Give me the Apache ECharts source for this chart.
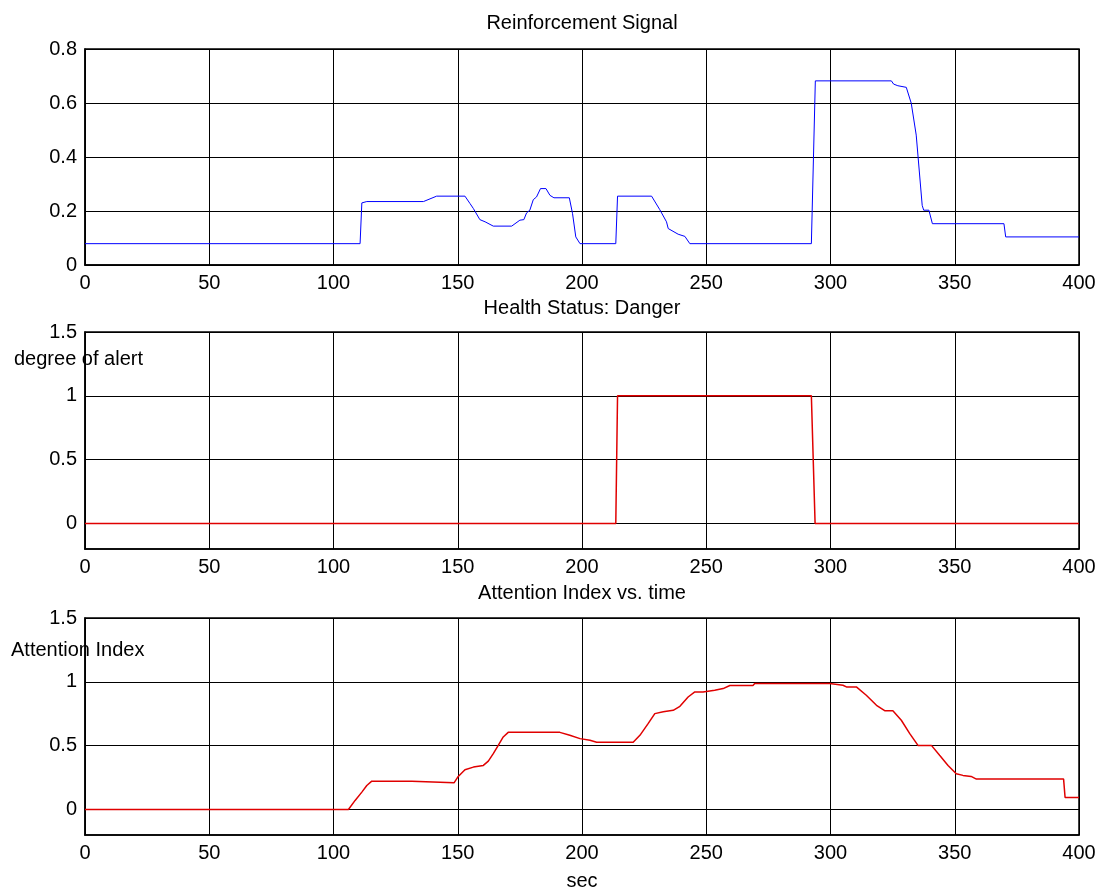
<!DOCTYPE html>
<html>
<head>
<meta charset="utf-8">
<title>Reinforcement Signal</title>
<script src="https://cdn.jsdelivr.net/npm/echarts@6/dist/echarts.min.js"></script>
<style>
  html, body { margin: 0; padding: 0; background: #fff; }
  #main { width: 1099px; height: 890px; }
</style>
</head>
<body>
<div id="main"></div>
<script>
// x ticks shared by all three panels
var timeTicks = [0, 50, 100, 150, 200, 250, 300, 350, 400];

// Reinforcement Signal (blue)
var reinfT = [0, 110.7, 111.4, 113.4, 136.2, 141.5, 152.9, 154.9, 156.3, 158.9, 161, 164.3, 171.7, 175, 176.6,
  177.7, 179, 180.4, 181.7, 183.3, 185.5, 187.1, 188.7, 194.9, 196.2, 197.5, 199.2, 213.6, 214.3, 228, 231.3,
  234, 234.7, 238.7, 241.4, 243.4, 292.3, 293.9, 324.5, 325.4, 327.1, 330.5, 332.5, 334.5, 336.9, 337.5, 339.6,
  341, 369.8, 370.5, 400];
var reinfV = [0.079, 0.079, 0.23, 0.235, 0.235, 0.255, 0.255, 0.228, 0.209, 0.168, 0.16, 0.144, 0.144, 0.166, 0.168,
  0.193, 0.203, 0.242, 0.252, 0.283, 0.283, 0.258, 0.249, 0.249, 0.19, 0.104, 0.079, 0.079, 0.255, 0.255, 0.205,
  0.16, 0.135, 0.114, 0.106, 0.079, 0.079, 0.682, 0.682, 0.670, 0.664, 0.658, 0.599, 0.481, 0.221, 0.203, 0.203,
  0.153, 0.153, 0.104, 0.104];

// Health Status: Danger (red)
var alertT = [0, 213.6, 214.3, 292.3, 293.8, 400];
var alertV = [0, 0, 1, 1, 0, 0];

// Attention Index (red)
var attT = [0, 106, 108.7, 111.4, 113.4, 115.4, 131.5, 132.1, 148.5, 150.2, 152.9, 156.3, 160.3, 162.3, 164.3,
  166.3, 168.3, 170.3, 191.1, 195.1, 199.2, 203.2, 205.9, 220.6, 223.3, 226.6, 229.3, 232.7, 236.7, 239.4, 242.7,
  245.4, 248.7, 253.4, 256.8, 259.5, 268.8, 269.5, 299.7, 300.4, 305, 306.4, 310.4, 314.4, 318.5, 321.8, 325.1,
  328.5, 331.9, 335.2, 340.6, 343.9, 347.3, 350.6, 353.3, 356.6, 358.7, 393.8, 394.4, 400];
var attV = [0, 0, 0.071, 0.136, 0.188, 0.222, 0.222, 0.209, 0.209, 0.259, 0.311, 0.332, 0.345, 0.379, 0.437,
  0.502, 0.568, 0.604, 0.604, 0.581, 0.555, 0.542, 0.526, 0.526, 0.581, 0.672, 0.751, 0.766, 0.777, 0.808, 0.881,
  0.921, 0.921, 0.934, 0.947, 0.971, 0.971, 0.987, 0.987, 0.973, 0.973, 0.960, 0.960, 0.895, 0.816, 0.774, 0.774,
  0.699, 0.594, 0.502, 0.502, 0.424, 0.345, 0.280, 0.267, 0.259, 0.238, 0.238, 0.094, 0.094];

var ticks1 = [0, 0.2, 0.4, 0.6, 0.8];
var ticks23 = [0, 0.5, 1, 1.5];

var FONT = 'Liberation Sans, Arial, sans-serif';
var FS = 20;

function zip(t, v) {
  var out = [];
  for (var i = 0; i < t.length; i++) out.push([t[i], v[i]]);
  return out;
}

function xAxisFor(idx) {
  return {
    type: 'value', gridIndex: idx, min: 0, max: 400, interval: 50,
    axisLine: { show: true, onZero: false, lineStyle: { color: '#000', width: 1.5 } },
    axisTick: { show: false },
    axisLabel: { color: '#000', fontSize: FS, fontFamily: FONT, margin: 8,
      customValues: timeTicks },
    splitLine: { show: true, lineStyle: { color: '#000', width: 1 } }
  };
}

function yAxisFor(idx, min, max, vals) {
  return {
    type: 'value', gridIndex: idx, min: min, max: max,
    axisLine: { show: true, onZero: false, lineStyle: { color: '#000', width: 1.5 } },
    axisTick: { show: false, customValues: vals },
    axisLabel: { color: '#000', fontSize: FS, fontFamily: FONT, margin: 8, customValues: vals },
    splitLine: { show: true, lineStyle: { color: '#000', width: 1 } }
  };
}

function txt(s, x, y, align) {
  return {
    type: 'text', x: x, y: y, z: 100,
    style: { text: s, align: align || 'center', verticalAlign: 'middle',
      fontSize: FS, fontFamily: FONT, fill: '#000' }
  };
}

var chart = echarts.init(document.getElementById('main'), null, { renderer: 'canvas' });

var option = {
  animation: false,
  backgroundColor: '#fff',
  grid: [
    { left: 85, right: 20, top: 49, height: 216, show: true, borderColor: '#000', borderWidth: 1.5 },
    { left: 85, right: 20, top: 332, height: 217, show: true, borderColor: '#000', borderWidth: 1.5 },
    { left: 85, right: 20, top: 618, height: 217, show: true, borderColor: '#000', borderWidth: 1.5 }
  ],
  xAxis: [xAxisFor(0), xAxisFor(1), xAxisFor(2)],
  yAxis: [
    yAxisFor(0, 0, 0.8, ticks1),
    yAxisFor(1, -0.2, 1.5, ticks23),
    yAxisFor(2, -0.2, 1.5, ticks23)
  ],
  series: [
    { type: 'line', xAxisIndex: 0, yAxisIndex: 0, data: zip(reinfT, reinfV), showSymbol: false, z: 10,
      lineStyle: { color: '#0000ff', width: 1 } },
    { type: 'line', xAxisIndex: 1, yAxisIndex: 1, data: zip(alertT, alertV), showSymbol: false, z: 10,
      lineStyle: { color: '#e00000', width: 1.5 } },
    { type: 'line', xAxisIndex: 2, yAxisIndex: 2, data: zip(attT, attV), showSymbol: false, z: 10,
      lineStyle: { color: '#e00000', width: 1.5 } }
  ],
  graphic: [
    txt('Reinforcement Signal', 582, 23),
    txt('Health Status: Danger', 582, 308),
    txt('Attention Index vs. time', 582, 593),
    txt('sec', 582, 881),
    txt('degree of alert', 14, 359, 'left'),
    txt('Attention Index', 11, 650, 'left')
  ]
};

chart.setOption(option);
</script>
</body>
</html>
